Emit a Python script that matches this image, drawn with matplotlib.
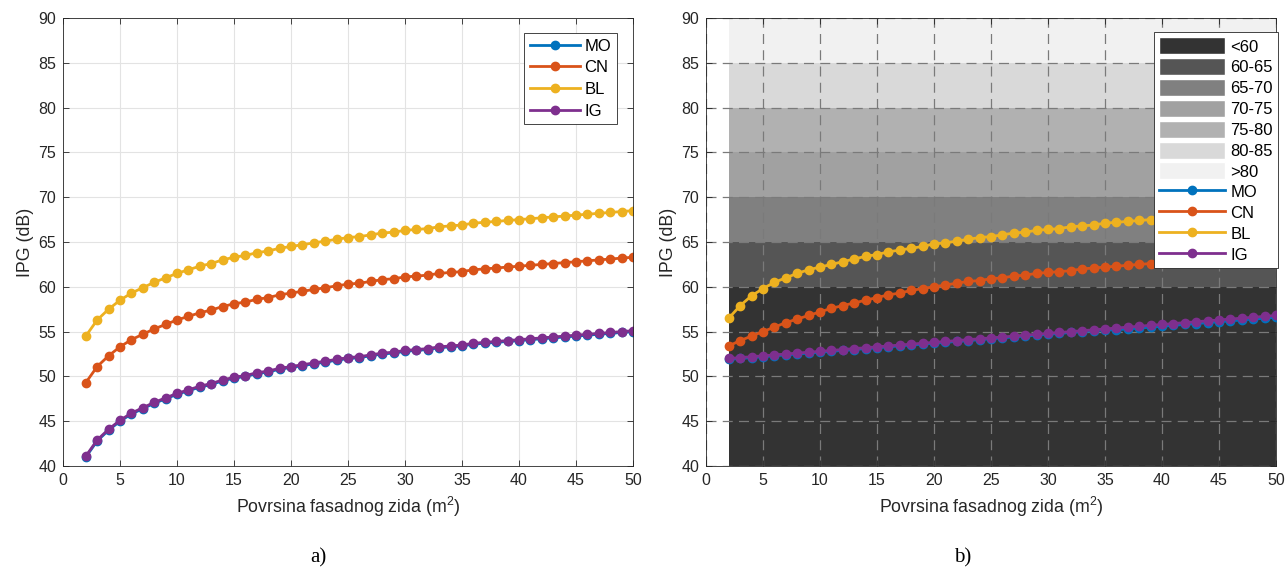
import matplotlib
matplotlib.use("Agg")
import matplotlib.pyplot as plt
from matplotlib.patches import Patch
from matplotlib.lines import Line2D

plt.rcParams["font.family"] = ["Liberation Sans", "DejaVu Sans"]
plt.rcParams["mathtext.fontset"] = "custom"
plt.rcParams["mathtext.rm"] = "Liberation Sans"
plt.rcParams["mathtext.default"] = "regular"

# wall surface area (m^2)
area = list(range(2, 51))

# a) IPG per location
mo_a = [41.0, 42.8, 44.0, 45.0, 45.8, 46.4, 47.0, 47.5, 48.0, 48.4, 48.8, 49.1, 49.5, 49.8, 50.0, 50.3,
        50.5, 50.8, 51.0, 51.2, 51.4, 51.6, 51.8, 52.0, 52.1, 52.3, 52.5, 52.6, 52.8, 52.9, 53.0, 53.2,
        53.3, 53.4, 53.6, 53.7, 53.8, 53.9, 54.0, 54.1, 54.2, 54.3, 54.4, 54.5, 54.6, 54.7, 54.8, 54.9, 55.0]
cn_a = [49.3, 51.1, 52.3, 53.3, 54.1, 54.7, 55.3, 55.8, 56.3, 56.7, 57.1, 57.4, 57.8, 58.1, 58.3, 58.6,
        58.8, 59.1, 59.3, 59.5, 59.7, 59.9, 60.1, 60.3, 60.4, 60.6, 60.8, 60.9, 61.1, 61.2, 61.3, 61.5,
        61.6, 61.7, 61.9, 62.0, 62.1, 62.2, 62.3, 62.4, 62.5, 62.6, 62.7, 62.8, 62.9, 63.0, 63.1, 63.2, 63.3]
bl_a = [54.5, 56.3, 57.5, 58.5, 59.3, 59.9, 60.5, 61.0, 61.5, 61.9, 62.3, 62.6, 63.0, 63.3, 63.5, 63.8,
        64.0, 64.3, 64.5, 64.7, 64.9, 65.1, 65.3, 65.5, 65.6, 65.8, 66.0, 66.1, 66.3, 66.4, 66.5, 66.7,
        66.8, 66.9, 67.1, 67.2, 67.3, 67.4, 67.5, 67.6, 67.7, 67.8, 67.9, 68.0, 68.1, 68.2, 68.3, 68.4, 68.5]
ig_a = [41.1, 42.9, 44.1, 45.1, 45.9, 46.5, 47.1, 47.6, 48.1, 48.5, 48.9, 49.2, 49.6, 49.9, 50.1, 50.4,
        50.6, 50.9, 51.1, 51.3, 51.5, 51.7, 51.9, 52.1, 52.2, 52.4, 52.6, 52.7, 52.9, 53.0, 53.1, 53.3,
        53.4, 53.5, 53.7, 53.8, 53.9, 54.0, 54.1, 54.2, 54.3, 54.4, 54.5, 54.6, 54.7, 54.8, 54.9, 55.0, 55.1]

# b) IPG per location
mo_b = [51.9, 52.0, 52.1, 52.2, 52.3, 52.4, 52.5, 52.6, 52.7, 52.8, 52.9, 53.0, 53.1, 53.2, 53.3, 53.4,
        53.5, 53.6, 53.7, 53.8, 53.9, 54.0, 54.1, 54.2, 54.3, 54.4, 54.5, 54.6, 54.7, 54.8, 54.9, 55.0,
        55.1, 55.2, 55.2, 55.3, 55.4, 55.5, 55.6, 55.7, 55.8, 55.9, 56.0, 56.1, 56.2, 56.3, 56.4, 56.5, 56.6]
cn_b = [53.4, 54.0, 54.5, 55.0, 55.5, 56.0, 56.4, 56.8, 57.2, 57.6, 57.9, 58.2, 58.5, 58.8, 59.1, 59.3,
        59.6, 59.8, 60.0, 60.2, 60.4, 60.6, 60.7, 60.9, 61.0, 61.2, 61.3, 61.5, 61.6, 61.7, 61.8, 62.0,
        62.1, 62.2, 62.3, 62.4, 62.5, 62.6, 62.7, 62.8, 62.9, 63.0, 63.1, 63.2, 63.2, 63.3, 63.4, 63.5, 63.6]
bl_b = [56.5, 57.9, 59.0, 59.8, 60.5, 61.0, 61.5, 61.9, 62.2, 62.5, 62.8, 63.1, 63.4, 63.6, 63.9, 64.1,
        64.3, 64.5, 64.8, 64.9, 65.1, 65.3, 65.5, 65.6, 65.8, 66.0, 66.1, 66.3, 66.4, 66.5, 66.7, 66.8,
        66.9, 67.1, 67.2, 67.3, 67.4, 67.5, 67.6, 67.7, 67.8, 67.9, 68.0, 68.1, 68.2, 68.3, 68.4, 68.5, 68.6]
ig_b = [52.0, 52.1, 52.2, 52.3, 52.4, 52.5, 52.6, 52.7, 52.8, 52.9, 53.0, 53.1, 53.2, 53.3, 53.4, 53.5,
        53.6, 53.7, 53.8, 53.9, 54.0, 54.1, 54.2, 54.3, 54.4, 54.5, 54.6, 54.7, 54.8, 54.9, 55.0, 55.1,
        55.2, 55.3, 55.4, 55.5, 55.6, 55.7, 55.8, 55.9, 56.0, 56.1, 56.2, 56.3, 56.4, 56.5, 56.6, 56.7, 56.8]

# noise classes in b)
band_labels = ["<60", "60-65", "65-70", "70-75", "75-80", "80-85", ">80"]
band_edges = [40, 60, 65, 70, 75, 80, 85, 90]
band_colors = ["#333333", "#555555", "#808080", "#a1a1a1", "#b1b1b1", "#d9d9d9", "#f1f1f1"]

names = ["MO", "CN", "BL", "IG"]
colors = ["#0072BD", "#D95319", "#EDB120", "#7E2F8E"]
axcol = "#262626"


def style_axes(ax):
    ax.set_xlim(0, 50)
    ax.set_ylim(40, 90)
    ax.set_xticks(range(0, 51, 5))
    ax.set_yticks(range(40, 91, 5))
    ax.tick_params(direction="in", top=True, right=True, length=4, width=0.6,
                   colors=axcol, labelsize=11.5, pad=5)
    for s in ax.spines.values():
        s.set_color(axcol)
        s.set_linewidth(0.6)
    ax.set_xlabel("Povrsina fasadnog zida (m$^2$)", fontsize=12.8, color=axcol, labelpad=5)
    ax.set_ylabel("IPG (dB)", fontsize=12.8, color=axcol, labelpad=3)


fig = plt.figure(figsize=(12.87, 5.71), dpi=100)
ax1 = fig.add_axes([63 / 1287, 1 - 466 / 571, 570 / 1287, 448 / 571])
ax2 = fig.add_axes([706 / 1287, 1 - 466 / 571, 570 / 1287, 448 / 571])

# Panel a
for ys, n, c in zip([mo_a, cn_a, bl_a, ig_a], names, colors):
    ax1.plot(area, ys, "-o", color=c, lw=2, ms=6, label=n)
ax1.grid(True, color="#e3e3e3", lw=0.8)
ax1.set_axisbelow(True)
style_axes(ax1)
leg1 = ax1.legend(loc="upper right", bbox_to_anchor=(0.972, 0.967), fontsize=12,
                  fancybox=False, edgecolor=axcol, framealpha=1, handlelength=3.0,
                  borderpad=0.35, labelspacing=0.4, handletextpad=0.25, borderaxespad=0)
leg1.get_frame().set_linewidth(0.6)

# Panel b
handles = []
for i, lab in enumerate(band_labels):
    ax2.fill_between([area[0], area[-1]], band_edges[i], band_edges[i + 1],
                     color=band_colors[i], lw=0, zorder=0)
    handles.append(Patch(facecolor=band_colors[i], edgecolor="#ffffff", label=lab))
ax2.grid(True, color="#7a7a7a", lw=0.9, ls=(0, (8, 5)), zorder=1)
for ys, n, c in zip([mo_b, cn_b, bl_b, ig_b], names, colors):
    ax2.plot(area, ys, "-o", color=c, lw=2, ms=6, zorder=3)
    handles.append(Line2D([], [], color=c, lw=2, marker="o", ms=6, label=n))
style_axes(ax2)
leg2 = ax2.legend(handles=handles, loc="upper right", bbox_to_anchor=(1.003, 0.968), fontsize=12,
                  fancybox=False, edgecolor=axcol, framealpha=1, handlelength=4.0,
                  handleheight=1.2, borderpad=0.3, labelspacing=0.22, handletextpad=0.3,
                  borderaxespad=0)
leg2.get_frame().set_linewidth(0.6)

fig.text(318 / 1287, 1 - 558 / 571, "a)", fontsize=15, family="Liberation Serif",
         ha="center", va="center")
fig.text(963 / 1287, 1 - 558 / 571, "b)", fontsize=15, family="Liberation Serif",
         ha="center", va="center")

fig.savefig("out.png", dpi=100)
